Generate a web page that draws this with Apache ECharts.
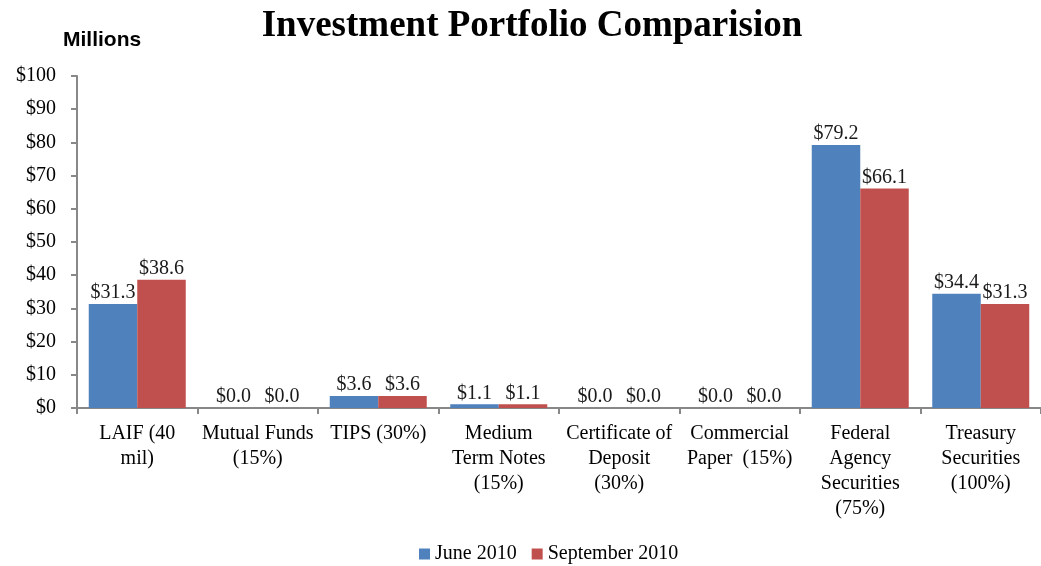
<html>
  <head>
    <meta http-equiv="Content-Type" content="text/html; charset=utf-8" />
    <script src="https://cdn.jsdelivr.net/npm/echarts@6/dist/echarts.min.js"></script>
  </head>
  <body style="margin:0">
    <div id="main" style="width: 1041px;height:566px;"></div>
    <script type="text/javascript">
var categories = ['LAIF (40\nmil)', 'Mutual Funds\n(15%)', 'TIPS (30%)', 'Medium\nTerm Notes\n(15%)',
  'Certificate of\nDeposit\n(30%)', 'Commercial\nPaper  (15%)', 'Federal\nAgency\nSecurities\n(75%)',
  'Treasury\nSecurities\n(100%)'];
var june2010 = [31.3, 0.0, 3.6, 1.1, 0.0, 0.0, 79.2, 34.4];
var sept2010 = [38.6, 0.0, 3.6, 1.1, 0.0, 0.0, 66.1, 31.3];

var myChart = echarts.init(document.getElementById('main'));
var serif = '"Liberation Serif", "Times New Roman", serif';

function barLabel() {
  return {
    show: true, position: 'top', distance: 1,
    fontFamily: serif, fontSize: 20, color: '#1a1a1a',
    formatter: function (p) { return '$' + p.value.toFixed(1); }
  };
}

var option = {
  animation: false,
  title: [{
    text: 'Investment Portfolio Comparision',
    left: 527, top: 3, textAlign: 'center',
    textStyle: { fontFamily: serif, fontWeight: 'bold', fontSize: 37, color: '#000' }
  }, {
    text: 'Millions',
    left: 58, top: 25,
    textStyle: { fontFamily: '"Liberation Sans", Arial, sans-serif', fontWeight: 'bold', fontSize: 21, color: '#000' }
  }],
  legend: {
    top: 539, left: 414,
    itemWidth: 11, itemHeight: 11, itemGap: 15,
    icon: 'rect',
    textStyle: { fontFamily: serif, fontSize: 20, color: '#000' }
  },
  grid: { left: 77, right: 0, top: 76, bottom: 158 },
  xAxis: {
    type: 'category',
    data: categories,
    axisLine: { lineStyle: { color: '#888', width: 2 } },
    axisTick: { show: true, interval: 0, length: 6, lineStyle: { color: '#888', width: 2 } },
    axisLabel: { interval: 0, fontFamily: serif, fontSize: 20, color: '#000', lineHeight: 25, margin: 13 }
  },
  yAxis: {
    type: 'value',
    min: 0, max: 100, interval: 10,
    splitLine: { show: false },
    axisLine: { show: true, lineStyle: { color: '#888', width: 2 } },
    axisTick: { show: true, length: 6, lineStyle: { color: '#888', width: 2 } },
    axisLabel: { fontFamily: serif, fontSize: 20, color: '#000', margin: 21,
      formatter: function (v) { return '$' + v; } }
  },
  series: [{
    name: 'June 2010', type: 'bar', data: june2010,
    barGap: 0, barCategoryGap: '19.5%',
    itemStyle: { color: '#4F81BD' },
    label: barLabel()
  }, {
    name: 'September 2010', type: 'bar', data: sept2010,
    barGap: 0, barCategoryGap: '19.5%',
    itemStyle: { color: '#C0504D' },
    label: barLabel()
  }]
};

myChart.setOption(option);
    </script>
  </body>
</html>
